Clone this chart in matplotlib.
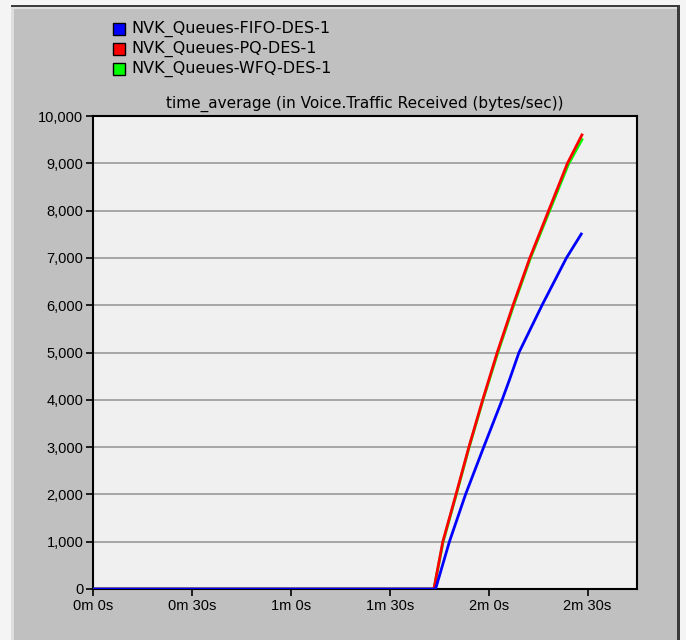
import matplotlib
matplotlib.use("Agg")
import matplotlib.pyplot as plt
from matplotlib.patches import Rectangle
from matplotlib.ticker import FuncFormatter, MultipleLocator

# time (s) and time-averaged voice traffic received (bytes/sec)
t_fifo = [0, 103.9, 108.1, 113.0, 118.5, 124.1, 126.3, 129.2, 136.2, 143.6, 148.1]
v_fifo = [0, 0, 1000, 2000, 3000, 4000, 4420, 5000, 6000, 7000, 7505]

t_pq = [0, 103.4, 106.1, 110.1, 114.0, 118.2, 122.6, 127.4, 132.5, 138.2, 143.9, 148.3]
v_pq = [0, 0, 1000, 2000, 3000, 4000, 5000, 6000, 7000, 8000, 9000, 9600]

t_wfq = [0, 103.4, 106.2, 110.2, 114.1, 118.3, 122.8, 127.6, 132.7, 138.5, 144.2, 148.3]
v_wfq = [0, 0, 1000, 2000, 3000, 4000, 5000, 6000, 7000, 8000, 8980, 9500]

series = [
    ("NVK_Queues-FIFO-DES-1", "#0000ff"),
    ("NVK_Queues-PQ-DES-1", "#ff0000"),
    ("NVK_Queues-WFQ-DES-1", "#00ff00"),
]

W, H = 686, 640
TICK_FONT = "Liberation Sans"
TEXT_FONT = "DejaVu Sans"

fig = plt.figure(figsize=(W / 100, H / 100), dpi=100, facecolor="#c0c0c0")


def px_rect(x, y, w, h, color):
    # rectangle given in pixels from the top-left corner
    fig.add_artist(Rectangle((x / W, 1 - (y + h) / H), w / W, h / H,
                             transform=fig.transFigure, facecolor=color,
                             edgecolor="none", zorder=0))


# window frame
px_rect(0, 0, W, 5, "#f4f4f4")
px_rect(0, 0, 11, H, "#f4f4f4")
px_rect(11, 5, 666, 2, "#3c3c3c")
px_rect(11, 7, 666, 2, "#dedede")
px_rect(11, 7, 3, H, "#dedede")
px_rect(677, 5, 3, H, "#3c3c3c")
px_rect(680, 0, 6, H, "#f4f4f4")

ax = fig.add_axes([93 / W, 1 - 589 / H, (637 - 93) / W, (589 - 116) / H])
ax.set_facecolor("#f0f0f0")

ax.plot(t_wfq, v_wfq, color="#00ff00", lw=2.0, zorder=3)
ax.plot(t_pq, v_pq, color="#ff0000", lw=2.0, zorder=4)
ax.plot(t_fifo, v_fifo, color="#0000ff", lw=2.0, zorder=5)

ax.set_xlim(0, 165)
ax.set_ylim(0, 10000)
ax.xaxis.set_major_locator(MultipleLocator(30))
ax.yaxis.set_major_locator(MultipleLocator(1000))
ax.xaxis.set_major_formatter(FuncFormatter(lambda s, _: f"{int(s) // 60}m {int(s) % 60}s"))
ax.yaxis.set_major_formatter(FuncFormatter(lambda v, _: f"{int(v):,}"))
ax.grid(axis="y", color="#a0a0a0", lw=1.3)
ax.set_axisbelow(True)
for sp in ax.spines.values():
    sp.set_color("black")
    sp.set_linewidth(1.5)
ax.tick_params(direction="out", length=5, width=1.2, colors="black",
               labelsize=10.5, pad=2)
for lab in ax.get_xticklabels() + ax.get_yticklabels():
    lab.set_fontfamily(TICK_FONT)

ax.set_title("time_average (in Voice.Traffic Received (bytes/sec))",
             fontsize=11, family=TEXT_FONT, pad=6)

# legend squares and labels
for i, (name, col) in enumerate(series):
    yc = 29 + 20 * i
    fig.add_artist(Rectangle((113 / W, 1 - (yc + 6) / H), 12 / W, 12 / H,
                             transform=fig.transFigure, facecolor=col,
                             edgecolor="black", lw=1.0))
    fig.text(131 / W, 1 - yc / H, name, fontsize=11.5, family=TEXT_FONT,
             va="center", ha="left")

fig.savefig("out.png", dpi=100, facecolor=fig.get_facecolor())
